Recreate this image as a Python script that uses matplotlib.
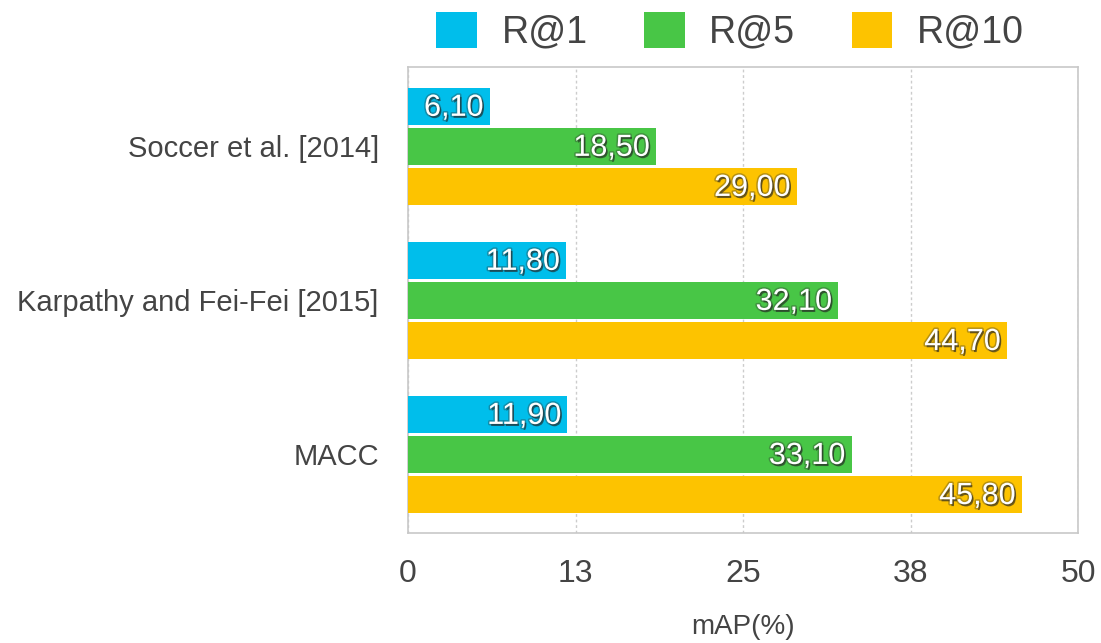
import matplotlib
matplotlib.use("Agg")
import matplotlib.pyplot as plt
import matplotlib.patheffects as pe
import numpy as np
from matplotlib.patches import Patch

categories = ["Soccer et al. [2014]", "Karpathy and Fei-Fei [2015]", "MACC"]
series_names = ["R@1", "R@5", "R@10"]
r1 = [6.10, 11.80, 11.90]
r5 = [18.50, 32.10, 33.10]
r10 = [29.00, 44.70, 45.80]
xticks = [0, 12.5, 25, 37.5, 50]
xtick_labels = ["0", "13", "25", "38", "50"]
colors = ["#00BEEB", "#48C646", "#FDC300"]

plt.rcParams['font.family'] = ['Liberation Sans', 'DejaVu Sans']
text_color = "#444444"

fig = plt.figure(figsize=(11.01, 6.43), dpi=100)
ax = fig.add_axes([408/1101, 1-533/643, (1078-408)/1101, (533-67)/643])

y = np.arange(len(categories))
h = 0.24
step = 0.26
pe_txt = [pe.Stroke(linewidth=2.2, foreground="#333333", alpha=0.35),
          pe.SimplePatchShadow(offset=(1.2, -1.5), shadow_rgbFace="#222222", alpha=0.6),
          pe.Normal()]
for i, (vals, col) in enumerate(zip([r1, r5, r10], colors)):
    pos = y + (i - 1) * step
    ax.barh(pos, vals, height=h, color=col, zorder=3)
    for p, v in zip(pos, vals):
        ax.text(v - 0.45, p + 0.01, f"{v:.2f}".replace(".", ","), ha="right", va="center",
                color="white", fontsize=22, zorder=4, path_effects=pe_txt)

ax.set_xlim(0, 50)
ax.set_ylim(2.51, -0.515)
ax.set_xticks(xticks)
ax.set_xticklabels(xtick_labels, fontsize=23, color=text_color)
ax.set_yticks(y)
ax.set_yticklabels(categories, fontsize=21, color=text_color)
ax.tick_params(axis="x", length=0, pad=19)
ax.tick_params(axis="y", length=0, pad=21)
ax.xaxis.grid(True, linestyle=(0, (2, 2)), color="#cccccc", linewidth=1, zorder=0)
for s in ax.spines.values():
    s.set_color("#c8c8c8")
    s.set_linewidth(1.2)
ax.set_xlabel("mAP(%)", fontsize=20, color=text_color, labelpad=18)

handles = [Patch(facecolor=c, edgecolor="none") for c in colors]
fig.legend(handles, series_names, loc="center", bbox_to_anchor=(730/1101, 1-31/643), ncol=3,
           frameon=False, fontsize=27, handlelength=1.09, handleheight=1.12,
           handletextpad=0.65, columnspacing=1.5, labelcolor=text_color)

fig.savefig("out.png", dpi=100, facecolor="white")
